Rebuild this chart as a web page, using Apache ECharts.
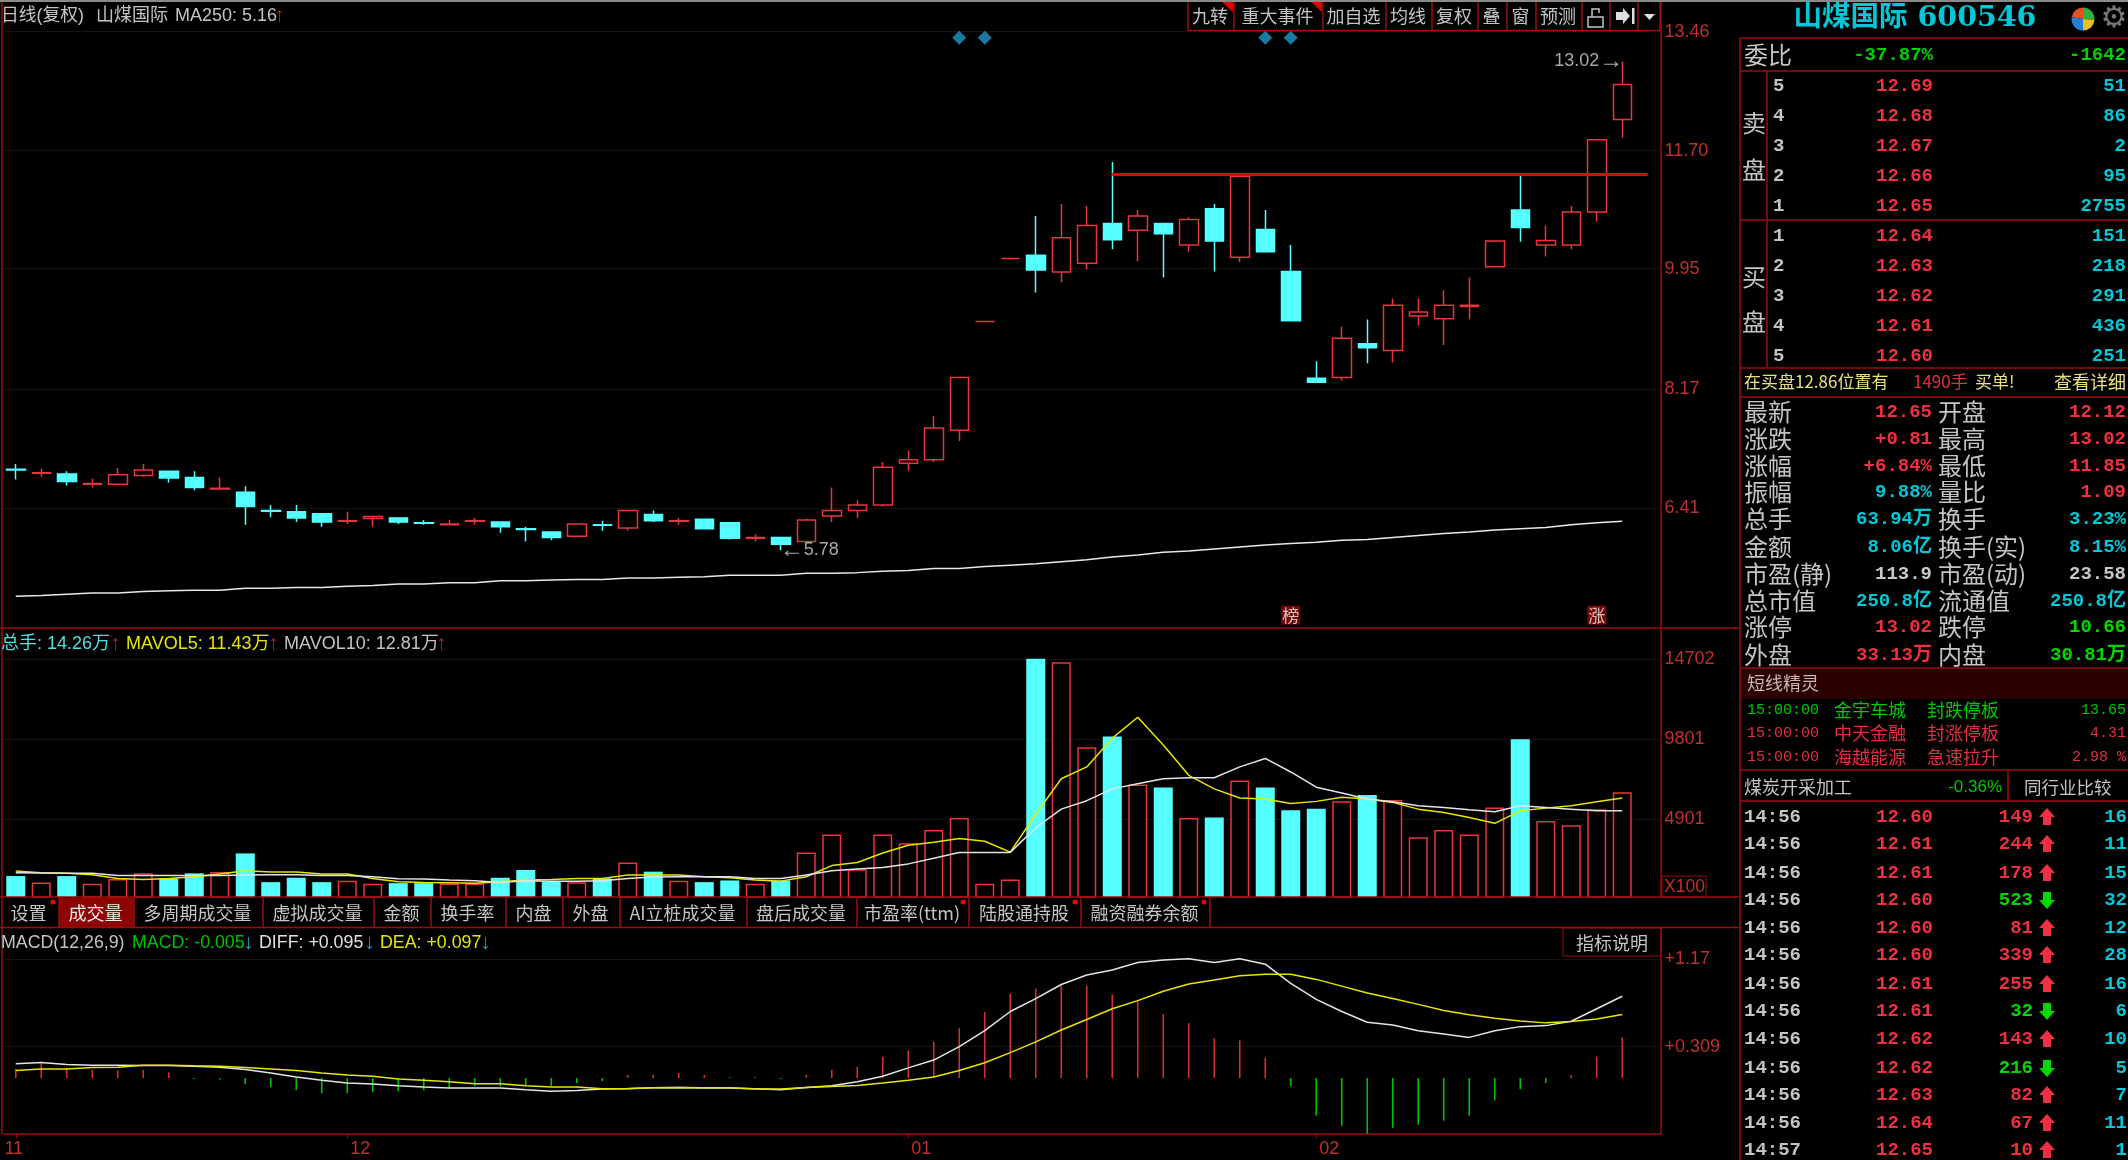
<!DOCTYPE html>
<html><head><meta charset="utf-8">
<style>html,body{margin:0;padding:0;background:#000}#c{width:2128px;height:1160px}</style>
<script src="https://cdn.jsdelivr.net/npm/echarts@6/dist/echarts.min.js"></script>
</head><body><div id="c"></div>
<script>
// ---------- chart data ----------
const monthTicks = {0:'11',13:'12',35:'01',51:'02'};
// [open, close, low, high]
const candles = [
[6.98,6.97,6.83,7.06],[6.92,6.93,6.87,6.99],[6.91,6.80,6.74,6.95],[6.76,6.77,6.71,6.84],[6.76,6.90,6.76,7.00],
[6.89,6.97,6.87,7.06],[6.95,6.85,6.78,6.95],[6.86,6.71,6.67,6.95],[6.69,6.70,6.68,6.86],[6.64,6.43,6.16,6.73],
[6.37,6.36,6.27,6.45],[6.35,6.26,6.20,6.45],[6.32,6.20,6.13,6.32],[6.21,6.22,6.17,6.35],[6.25,6.28,6.13,6.28],
[6.26,6.20,6.17,6.26],[6.19,6.18,6.16,6.23],[6.16,6.17,6.16,6.23],[6.21,6.22,6.16,6.26],[6.20,6.13,6.04,6.20],
[6.10,6.09,5.91,6.13],[6.05,5.97,5.93,6.06],[5.99,6.17,5.99,6.17],[6.16,6.15,6.07,6.22],[6.11,6.37,6.07,6.37],
[6.31,6.22,6.20,6.37],[6.21,6.22,6.16,6.26],[6.24,6.10,6.09,6.24],[6.19,5.96,5.94,6.19],[5.96,5.97,5.91,6.02],
[5.97,5.87,5.78,5.97],[5.91,6.23,5.89,6.25],[6.29,6.37,6.20,6.71],[6.37,6.45,6.26,6.52],[6.45,7.01,6.43,7.09],
[7.07,7.12,6.96,7.26],[7.12,7.59,7.09,7.77],[7.56,8.34,7.40,8.34],[9.17,9.17,9.17,9.17],[10.10,10.10,10.10,10.10],
[10.15,9.93,9.60,10.73],[9.90,10.41,9.75,10.91],[10.03,10.59,9.94,10.88],[10.62,10.38,10.24,11.53],[10.52,10.73,10.06,10.82],
[10.62,10.47,9.82,10.62],[10.30,10.68,10.20,10.71],[10.84,10.36,9.91,10.91],[10.12,11.32,10.05,11.34],[10.53,10.20,10.20,10.82],
[9.91,9.18,9.18,10.30],[8.33,8.27,8.27,8.58],[8.34,8.92,8.29,9.09],[8.84,8.78,8.55,9.20],[8.74,9.41,8.56,9.51],
[9.25,9.31,9.11,9.51],[9.21,9.41,8.82,9.63],[9.39,9.41,9.20,9.82],[9.98,10.36,9.98,10.36],[10.82,10.56,10.35,11.34],
[10.30,10.37,10.13,10.59],[10.30,10.79,10.24,10.88],[10.79,11.86,10.65,11.86],[12.16,12.68,11.89,13.02]];
const ma250 = [5.10,5.11,5.13,5.15,5.15,5.17,5.18,5.19,5.19,5.22,5.22,5.23,5.23,5.25,5.26,5.28,5.28,5.30,5.30,5.33,5.33,5.34,5.35,5.35,5.37,5.37,5.38,5.39,5.41,5.41,5.41,5.44,5.44,5.45,
5.47,5.48,5.51,5.51,5.54,5.56,5.58,5.61,5.64,5.68,5.71,5.75,5.77,5.80,5.83,5.86,5.88,5.90,5.93,5.94,5.97,6.00,6.03,6.05,6.08,6.10,6.12,6.16,6.19,6.21];
const volumes = [1420,1026,1420,943,1234,1586,1275,1586,1669,2808,1047,1316,1047,1130,943,985,985,964,964,1316,1793,1068,1047,1275,2249,1689,1130,1047,1151,943,1151,2870,3969,1834,
3969,3430,4238,4984,943,1213,14743,14536,9314,9977,7035,6849,4984,5005,7284,6849,5460,5543,5999,6393,6082,3803,4238,3969,5626,9812,4797,4528,5523,6559];
const mavol5 = [1731,1627,1586,1503,1275,1213,1275,1379,1544,1752,1669,1669,1544,1544,1275,1068,1026,1006,985,1068,1171,1213,1275,1275,1482,1482,1482,1379,1316,1171,1109,1379,2062,2249,
2829,3306,3492,3720,3554,2891,5212,7387,8113,9874,11158,9459,7595,6766,6206,6144,5875,5999,6248,6144,5937,5523,5315,5005,4652,5419,5585,5730,5978,6206];
const mavol10 = [1627,1606,1586,1586,1461,1461,1461,1461,1461,1482,1503,1503,1461,1461,1379,1254,1234,1171,1130,1026,1130,1109,1109,1130,1275,1358,1379,1379,1379,1275,1275,1482,1752,1855,
1938,2166,2518,2870,2870,2870,4383,5523,6041,6766,7077,7387,7450,7450,8113,8631,7802,6869,6517,6144,5978,5730,5626,5481,5357,5730,5626,5523,5419,5419];
const macdHist = [.09,.14,.10,.08,.076,.08,.056,-.01,-.015,-.06,-.09,-.12,-.15,-.15,-.14,-.13,-.12,-.10,-.08,-.08,-.07,-.08,-.05,-.03,.03,.03,.05,.03,.01,.01,-.01,.03,.08,.11,
.21,.27,.36,.49,.65,.83,.88,.91,.91,.82,.76,.63,.54,.39,.37,.20,-.08,-.37,-.47,-.55,-.49,-.46,-.42,-.37,-.22,-.11,-.05,.03,.21,.40];
const diff = [.14,.153,.134,.127,.127,.124,.124,.117,.107,.084,.05,.011,-.023,-.049,-.059,-.076,-.089,-.099,-.099,-.099,-.116,-.129,-.122,-.109,-.106,-.096,-.093,-.099,-.099,-.106,-.116,-.093,-.076,-.036,
.017,.10,.177,.309,.466,.655,.782,.921,1.014,1.064,1.137,1.161,1.174,1.137,1.174,1.121,.931,.775,.655,.549,.522,.466,.433,.40,.466,.506,.516,.559,.682,.805];
const dea = [.074,.09,.09,.104,.107,.127,.127,.12,.117,.104,.09,.074,.05,.031,.017,-.01,-.023,-.036,-.056,-.056,-.076,-.089,-.089,-.106,-.103,-.096,-.093,-.096,-.096,-.109,-.109,-.093,-.083,-.073,
-.049,-.023,.011,.074,.15,.25,.356,.473,.576,.682,.762,.855,.925,.965,1.008,1.021,1.021,.971,.905,.838,.782,.725,.665,.622,.589,.562,.543,.556,.582,.626];
const priceTicks = [13.46,11.70,9.95,8.17,6.41];
const volumeTicks = [14702,9801,4901];
const macdTicks = [1.17,0.309];
const resistance = 11.35, resistanceFrom = 43, resistanceTo = 64;
const diamondIdx = [37,38,49,50], diamondPrice = 13.37;
const eventMarks = [[50,'榜'],[62,'涨']], eventPrice = 4.82;
const highMark = [63,13.02], lowMark = [30,5.78];

// ---------- quote panel data ----------
const askPrices = ['12.69','12.68','12.67','12.66','12.65'], askVols = ['51','86','2','95','2755'];
const bidPrices = ['12.64','12.63','12.62','12.61','12.60'], bidVols = ['151','218','291','436','251'];
const statsL = [['最新','12.65','r'],['涨跌','+0.81','r'],['涨幅','+6.84%','r'],['振幅','9.88%','c'],['总手','63.94万','c'],['金额','8.06亿','c'],['市盈(静)','113.9','g'],['总市值','250.8亿','c'],['涨停','13.02','r'],['外盘','33.13万','r']];
const statsR = [['开盘','12.12','r'],['最高','13.02','r'],['最低','11.85','r'],['量比','1.09','r'],['换手','3.23%','c'],['换手(实)','8.15%','c'],['市盈(动)','23.58','g'],['流通值','250.8亿','c'],['跌停','10.66','n'],['内盘','30.81万','n']];
const spirit = [['15:00:00','金宇车城','封跌停板','13.65','n'],['15:00:00','中天金融','封涨停板','4.31','r'],['15:00:00','海越能源','急速拉升','2.98 %','r']];
const tickTimes = ['14:56','14:56','14:56','14:56','14:56','14:56','14:56','14:56','14:56','14:56','14:56','14:56','14:57'];
const tickPrices = ['12.60','12.61','12.61','12.60','12.60','12.60','12.61','12.61','12.62','12.62','12.63','12.64','12.65'];
const tickVols = ['149','244','178','523','81','339','255','32','143','216','82','67','10'];
const tickDirs = [1,1,1,0,1,1,1,0,1,0,1,1,1];
const tickCounts = ['16','11','15','32','12','28','16','6','10','5','7','11','1'];
const toolbarLabels = ['九转','重大事件','加自选','均线','复权','叠','窗','预测'];
const tabLabels = ['设置','成交量','多周期成交量','虚拟成交量','金额','换手率','内盘','外盘','AI立桩成交量','盘后成交量','市盈率(ttm)','陆股通持股','融资融券余额'];

// ---------- styles / layout ----------
const RED='#e8343c', CYAN='#55ffff', LINE='#9a0c0c', DIM='#6a0808', GREY='#c4c4c4', AXIS='#c0302c';
const SANS='"Liberation Sans","Noto Sans CJK SC"', MONO='"Liberation Mono","Noto Sans CJK SC"', CJK='"Noto Sans CJK SC"';
const QC={r:'#f03040',c:'#00c8d8',g:'#c8c8c8',n:'#00d800'};
const els=[];
function T(x,y,text,fill,size,align,family,weight){
  els.push({type:'text',x,y,silent:true,z:50,style:{text,fill,align:align||'left',verticalAlign:'middle',font:(weight||'normal')+' '+size+'px '+(family||SANS)}});
}
function L(x1,y1,x2,y2,c,w){els.push({type:'line',silent:true,z:40,shape:{x1,y1,x2,y2},style:{stroke:c||LINE,lineWidth:w||1.5}});}
function R(x,y,w,h,fill,z){els.push({type:'rect',silent:true,z:z||30,shape:{x,y,width:w,height:h},style:{fill}});}
function P(points,fill,z){els.push({type:'polygon',silent:true,z:z||45,shape:{points},style:{fill}});}

// frame
L(0,1,2128,1,'#8a8a8a',2);
L(2,2,2,1134); L(0,628,1740,628); L(0,897,1740,897); L(0,927.5,1740,927.5);
L(1740,38,1740,1160);

// panel legends
T(1,16,'日线(复权)',GREY,17.8); T(96,16,'山煤国际',GREY,18); T(175,16,'MA250: 5.16',GREY,18); T(274,16,'↑','#d01818',21);
T(1,644,'总手:','#50e0e0',18); T(47,644,'14.26万','#50e0e0',18); T(110,644,'↑','#d01818',21);
T(126,644,'MAVOL5: 11.43万','#e6e600',18); T(268,644,'↑','#d01818',21);
T(284,644,'MAVOL10: 12.81万',GREY,18); T(436,644,'↑','#d01818',21);
T(1,943,'MACD(12,26,9)',GREY,17.8); T(132,943,'MACD: -0.005','#00c000',17.8); T(243,943,'↓','#20a0c0',21);
T(259,943,'DIFF: +0.095','#e0e0e0',17.8); T(364,943,'↓','#20a0c0',21);
T(380,943,'DEA: +0.097','#e6e600',17.8); T(480,943,'↓','#20a0c0',21);

// toolbar
const tb=[1188,1234,1323,1386,1432,1478,1507,1536,1582,1610,1638,1660];
L(1188,30.5,1660,30.5);
tb.forEach(x=>L(x,2,x,30.5));
toolbarLabels.forEach((s,i)=>T((tb[i]+tb[i+1])/2-1,16,s,GREY,18,'center',CJK));
P([[1222,2],[1233,2],[1233,12]],'#e00000'); P([[1311,2],[1322,2],[1322,12]],'#e00000');
// lock / pin / menu icons
els.push({type:'rect',silent:true,z:45,shape:{x:1588,y:17,width:15,height:10},style:{fill:'none',stroke:GREY,lineWidth:1.5}});
els.push({type:'polyline',silent:true,z:45,shape:{points:[[1592,17],[1592,9],[1599,9],[1599,13]]},style:{fill:'none',stroke:GREY,lineWidth:1.5}});
P([[1616,12],[1623,12],[1623,8],[1630,16],[1623,24],[1623,20],[1616,20]],'#e0e0e0');
R(1632,8,2.5,16,'#e0e0e0',45);
P([[1644,14],[1655,14],[1649.5,20]],'#e0e0e0');

// X100 + indicator help
els.push({type:'rect',silent:true,z:45,shape:{x:1662,y:876,width:44,height:21},style:{fill:'none',stroke:LINE,lineWidth:1}});
T(1664,887,'X100',AXIS,17.5);
els.push({type:'rect',silent:true,z:45,shape:{x:1563,y:928,width:98,height:28},style:{fill:'none',stroke:LINE,lineWidth:1}});
T(1612,943,'指标说明',GREY,18,'center',CJK);

// tab bar
const tabX=[0,59,134,263,374,431,506,563,620,747,857,969,1081,1210];
R(59,898,75,29,'#8c0404');
tabX.slice(1).forEach(x=>L(x,897,x,927));
tabLabels.forEach((s,i)=>T((tabX[i]+tabX[i+1])/2-1,913,s,i===1?'#f0f0f0':GREY,18,'center',CJK));
[0,10,11,12].forEach(i=>els.push({type:'circle',silent:true,z:45,shape:{cx:tabX[i+1]-6,cy:902,r:2.5},style:{fill:'#f00000'}}));

// quote panel: header
T(1915,19,'山煤国际 600546','#00c8d8',28.5,'center','"DejaVu Serif","Noto Sans CJK SC"','bold');
const pieC=[[ -Math.PI*0.95,-Math.PI*0.5,'#e85020'],[-Math.PI*0.5,Math.PI*0.02,'#30b040'],[Math.PI*0.02,Math.PI*0.5,'#e8c020'],[Math.PI*0.5,Math.PI*1.05,'#2080d8']];
pieC.forEach(a=>els.push({type:'sector',silent:true,z:45,shape:{cx:2083,cy:19,r:11.5,r0:0,startAngle:a[0],endAngle:a[1]},style:{fill:a[2]}}));
T(2114,19,'⚙','#787878',30,'center','"DejaVu Sans"');
// quote panel: rules
[38,71,220,368,397,668,770,801].forEach(y=>L(1740,y,2128,y));
L(1767,71,1767,368); L(2008,770,2008,801);
R(1741,669,387,30,'#2a0000');
const NUM=19;
T(1744,55,'委比',GREY,24,'left',CJK);
T(1933,55,'-37.87%','#00d000',NUM,'right',MONO,'bold'); T(2126,55,'-1642','#00d000',NUM,'right',MONO,'bold');
[['卖',123],['盘',170],['买',277],['盘',322]].forEach(a=>T(1754,a[1],a[0],GREY,24,'center',CJK));
const rowsAsk=[86,116,146,176,206], rowsBid=[236,266,296,326,356];
askPrices.forEach((p,i)=>{const y=rowsAsk[i];T(1773,y,String(5-i),GREY,NUM,'left',MONO,'bold');T(1933,y,p,QC.r,NUM,'right',MONO,'bold');T(2126,y,askVols[i],QC.c,NUM,'right',MONO,'bold');});
bidPrices.forEach((p,i)=>{const y=rowsBid[i];T(1773,y,String(i+1),GREY,NUM,'left',MONO,'bold');T(1933,y,p,QC.r,NUM,'right',MONO,'bold');T(2126,y,bidVols[i],QC.c,NUM,'right',MONO,'bold');});
T(1744,382,'在买盘12.86位置有','#e8e080',17,'left',CJK); T(1913,382,'1490手','#e03040',17,'left',CJK);
T(1975,382,'买单!','#e8e080',17,'left',CJK); T(2126,382,'查看详细','#e8e080',18,'right',CJK);
const rowsStat=[412,439,466,492,519,547,574,601,627,655];
statsL.forEach((s,i)=>{const y=rowsStat[i];T(1744,y,s[0],GREY,24,'left',CJK);T(1932,y,s[1],QC[s[2]],NUM,'right',MONO,'bold');});
statsR.forEach((s,i)=>{const y=rowsStat[i];T(1938,y,s[0],GREY,24,'left',CJK);T(2126,y,s[1],QC[s[2]],NUM,'right',MONO,'bold');});
T(1747,683,'短线精灵','#c8b8b8',18,'left',CJK);
const rowsSp=[710,733,757];
spirit.forEach((s,i)=>{const y=rowsSp[i],c=s[4]==='n'?'#00c800':'#e03040';
  T(1747,y,s[0],c,15,'left',MONO);T(1834,y,s[1],c,18,'left',CJK);T(1927,y,s[2],c,18,'left',CJK);T(2126,y,s[3],c,15,'right',MONO);});
T(1744,787,'煤炭开采加工',GREY,18,'left',CJK); T(2002,787,'-0.36%','#00c800',17,'right',SANS); T(2024,787,'同行业比较',GREY,17.5,'left',CJK);
const rowsTk=[817,844,873,900,928,955,984,1011,1039,1068,1095,1123,1150];
tickTimes.forEach((t,i)=>{const y=rowsTk[i],up=tickDirs[i]===1,c=up?'#f03040':'#00d800';
  T(1744,y,t,GREY,NUM,'left',MONO,'bold');T(1933,y,tickPrices[i],'#f03040',NUM,'right',MONO,'bold');
  T(2033,y,tickVols[i],c,NUM,'right',MONO,'bold');
  const ax=2047;
  if(up)P([[ax,y-9],[ax+8,y],[ax+4,y],[ax+4,y+8],[ax-4,y+8],[ax-4,y],[ax-8,y]],c);
  else P([[ax,y+9],[ax+8,y],[ax+4,y],[ax+4,y-8],[ax-4,y-8],[ax-4,y],[ax-8,y]],c);
  T(2127,y,tickCounts[i],QC.c,NUM,'right',MONO,'bold');});

// ---------- chart ----------
const N=65;
const categories=Array.from({length:N},(_,i)=>monthTicks[i]||String(i));
const isUp=c=>c[1]>=c[0];
const volData=volumes.map((v,i)=>({value:v,itemStyle:isUp(candles[i])?{color:'#000',borderColor:RED,borderWidth:1.5}:{color:CYAN,borderColor:CYAN,borderWidth:0}}));
const histData=macdHist.map(v=>({value:v,itemStyle:{color:v>=0?'#d03030':'#00c000'}}));
const hiddenX=g=>({type:'category',gridIndex:g,data:categories,boundaryGap:true,axisLine:{show:false},axisTick:{show:false},axisLabel:{show:false},splitLine:{show:false}});
const yAxis=(g,min,max,ticks,fmt)=>({type:'value',gridIndex:g,position:'right',min,max,scale:true,
  axisLine:{show:true,lineStyle:{color:LINE,width:1.5}},axisTick:{show:false,customValues:ticks},
  axisLabel:{show:true,customValues:ticks,color:AXIS,fontSize:18,fontFamily:SANS,margin:4,padding:[3,0,0,0],formatter:fmt},
  splitLine:{show:true,lineStyle:{color:DIM,type:'dotted',width:1}}});
const line=(x,data,color,w)=>({type:'line',xAxisIndex:x,yAxisIndex:x,data,symbol:'none',silent:true,animation:false,z:5,lineStyle:{color,width:w||1.5}});
const arrowRich={t:{color:'#a8a8a8',fontSize:18,fontFamily:SANS},g:{color:'#a8a8a8',fontSize:24,fontFamily:SANS}};
const option={
  backgroundColor:'#000',animation:false,
  grid:[{left:3,width:1657.5,top:2,height:626},{left:3,width:1657.5,top:628,height:269},{left:3,width:1657.5,top:928,height:206}],
  xAxis:[hiddenX(0),hiddenX(1),{type:'category',gridIndex:2,data:categories,boundaryGap:true,
    axisLine:{show:true,onZero:false,lineStyle:{color:LINE,width:1.5}},
    axisTick:{show:true,alignWithLabel:true,length:4,interval:i=>i in monthTicks,lineStyle:{color:LINE}},
    axisLabel:{show:true,interval:i=>i in monthTicks,margin:6,formatter:(v,i)=>i===0?'{z|'+v+'}':'{a|'+v+'}',
      rich:{z:{color:AXIS,fontSize:18,fontFamily:SANS,padding:[0,4,0,0]},a:{color:AXIS,fontSize:18,fontFamily:SANS,padding:[0,0,0,26]}}},splitLine:{show:false}}],
  yAxis:[yAxis(0,4.63,13.90,priceTicks,v=>v.toFixed(2)),yAxis(1,136,16629,volumeTicks,v=>String(v)),yAxis(2,-0.551,1.477,macdTicks,v=>'+'+v)],
  series:[
    {type:'candlestick',xAxisIndex:0,yAxisIndex:0,data:candles,barWidth:19,silent:true,
      itemStyle:{color:'#000',color0:CYAN,borderColor:RED,borderColor0:CYAN,borderColorDoji:RED,borderWidth:1.5},
      markLine:{silent:true,symbol:'none',label:{show:false},lineStyle:{color:'#e80000',width:3,type:'solid'},
        data:[[{coord:[resistanceFrom,resistance]},{coord:[resistanceTo,resistance]}]]},
      markPoint:{silent:true,symbol:'circle',symbolSize:0,data:[
        {coord:highMark,label:{show:true,position:'left',distance:-1,formatter:'{t|'+highMark[1]+'}{g|→}',rich:arrowRich}},
        {coord:lowMark,label:{show:true,position:'right',distance:-1,formatter:'{g|←}{t|'+lowMark[1]+'}',rich:arrowRich}}]}},
    line(0,ma250,'#e8e8e8',1.5),
    {type:'scatter',xAxisIndex:0,yAxisIndex:0,symbol:'diamond',symbolSize:14,silent:true,itemStyle:{color:'#2098c8'},data:diamondIdx.map(i=>[i,diamondPrice])},
    {type:'scatter',xAxisIndex:0,yAxisIndex:0,symbolSize:0,silent:true,data:eventMarks.map(e=>[e[0],eventPrice]),
      label:{show:true,position:'inside',formatter:p=>eventMarks[p.dataIndex][1],color:'#f0f0f0',fontSize:17,fontFamily:CJK,backgroundColor:'#900808',padding:[1,1]}},
    {type:'bar',xAxisIndex:1,yAxisIndex:1,data:volData,barWidth:19,silent:true},
    line(1,mavol5,'#e6e600'),line(1,mavol10,'#e4e4e4'),
    {type:'bar',xAxisIndex:2,yAxisIndex:2,data:histData,barWidth:1.6,silent:true},
    line(2,diff,'#e4e4e4'),line(2,dea,'#e6e600')
  ],
  graphic:els
};
const chart=echarts.init(document.getElementById('c'),null,{width:2128,height:1160});
chart.setOption(option);
</script></body></html>
